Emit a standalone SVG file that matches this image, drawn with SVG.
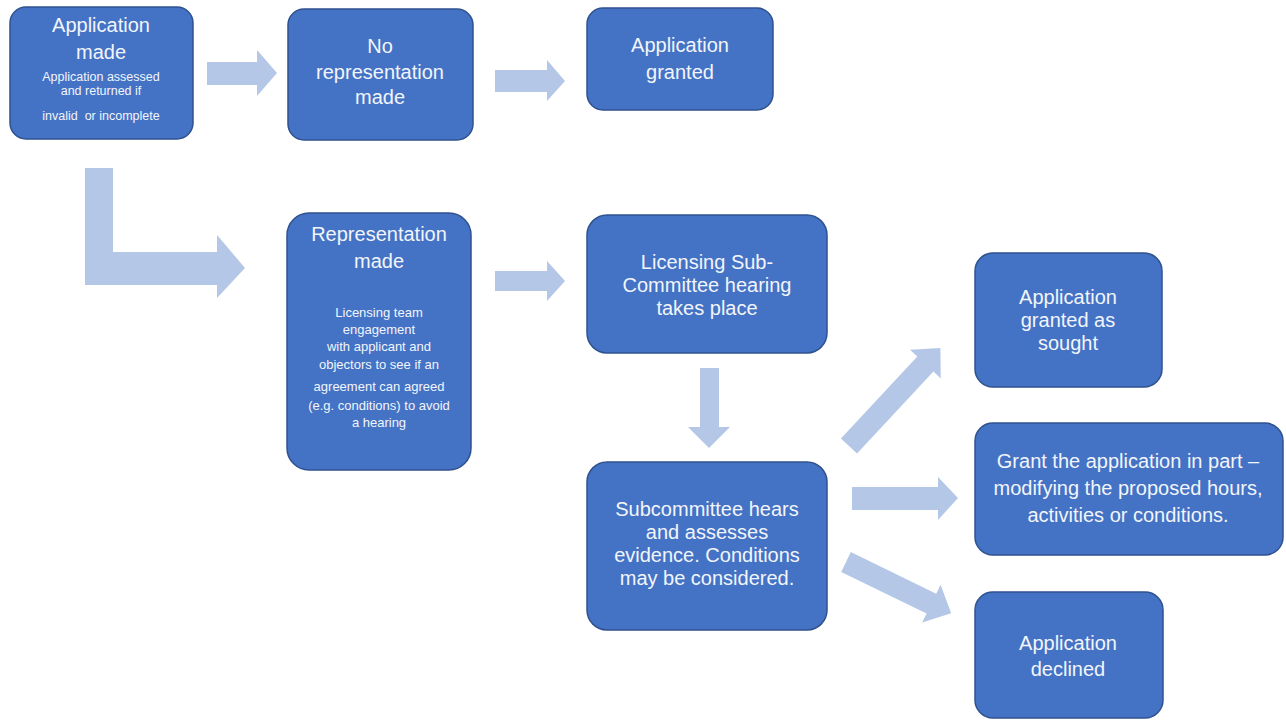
<svg xmlns="http://www.w3.org/2000/svg" width="1286" height="723" viewBox="0 0 1286 723">
<style>
.box{fill:#4472C4;stroke:#2F528F;stroke-width:1.5}
.arr{fill:#B4C7E7}
.t{font-family:"Liberation Sans",Arial,sans-serif;fill:#F2F5FB;text-anchor:middle;font-size:20px}
.s{font-size:13px}
.s12{font-size:12.5px}
</style>
<rect width="1286" height="723" fill="#FFFFFF"/>
<g id="connectors">
<polygon class="arr" points="207,62 257,62 257,50 277,73 257,96 257,85 207,85"/>
<polygon class="arr" points="495,70 547,70 547,60 565,81 547,101 547,92 495,92"/>
<polygon class="arr" points="85,168 113,168 113,252 217,252 217,235 245,268 217,298 217,285 85,285"/>
<polygon class="arr" points="495,271 547,271 547,261 565,281 547,301 547,291 495,291"/>
<polygon class="arr" points="700,368 719,368 719,427 730,427 709,448 688,427 700,427"/>
<polygon class="arr" transform="translate(849,446) rotate(-47)" points="0,-11 112,-11 112,-21 134,0 112,21 112,11 0,11"/>
<polygon class="arr" points="852,487 938,487 938,477 958,498 938,520 938,510 852,510"/>
<polygon class="arr" transform="translate(846,562) rotate(26)" points="0,-11 95,-11 95,-21 117,0 95,21 95,11 0,11"/>
</g>
<g id="application-made">
<rect class="box" x="10" y="7" width="183" height="132" rx="16"/>
<text class="t" x="101" y="32">Application</text>
<text class="t" x="101" y="59">made</text>
<text class="t s12" x="101" y="81">Application assessed</text>
<text class="t s12" x="101" y="95">and returned if</text>
<text class="t s12" x="101" y="120" xml:space="preserve">invalid  or incomplete</text>
</g>
<g id="no-representation">
<rect class="box" x="288" y="9" width="185" height="131" rx="16"/>
<text class="t" x="380" y="53">No</text>
<text class="t" x="380" y="79">representation</text>
<text class="t" x="380" y="104">made</text>
</g>
<g id="application-granted">
<rect class="box" x="587" y="8" width="186" height="102" rx="16"/>
<text class="t" x="680" y="52">Application</text>
<text class="t" x="680" y="79">granted</text>
</g>
<g id="representation-made">
<rect class="box" x="287" y="213" width="184" height="257" rx="22"/>
<text class="t" x="379" y="241">Representation</text>
<text class="t" x="379" y="268">made</text>
<text class="t s" x="379" y="317">Licensing team</text>
<text class="t s" x="379" y="334">engagement</text>
<text class="t s" x="379" y="351">with applicant and</text>
<text class="t s" x="379" y="369">objectors to see if an</text>
<text class="t s" x="379" y="391">agreement can agreed</text>
<text class="t s" x="379" y="410">(e.g. conditions) to avoid</text>
<text class="t s" x="379" y="427">a hearing</text>
</g>
<g id="licensing-hearing">
<rect class="box" x="587" y="215" width="240" height="138" rx="20"/>
<text class="t" x="707" y="269">Licensing Sub-</text>
<text class="t" x="707" y="292">Committee hearing</text>
<text class="t" x="707" y="315">takes place</text>
</g>
<g id="subcommittee-hears">
<rect class="box" x="587" y="462" width="240" height="168" rx="20"/>
<text class="t" x="707" y="516">Subcommittee hears</text>
<text class="t" x="707" y="539">and assesses</text>
<text class="t" x="707" y="562">evidence. Conditions</text>
<text class="t" x="707" y="585">may be considered.</text>
</g>
<g id="granted-as-sought">
<rect class="box" x="975" y="253" width="187" height="134" rx="18"/>
<text class="t" x="1068" y="304">Application</text>
<text class="t" x="1068" y="327">granted as</text>
<text class="t" x="1068" y="350">sought</text>
</g>
<g id="grant-in-part">
<rect class="box" x="975" y="423" width="308" height="132" rx="18"/>
<text class="t" x="1128" y="468">Grant the application in part –</text>
<text class="t" x="1128" y="495">modifying the proposed hours,</text>
<text class="t" x="1128" y="522">activities or conditions.</text>
</g>
<g id="application-declined">
<rect class="box" x="975" y="592" width="188" height="126" rx="18"/>
<text class="t" x="1068" y="650">Application</text>
<text class="t" x="1068" y="676">declined</text>
</g>
</svg>
